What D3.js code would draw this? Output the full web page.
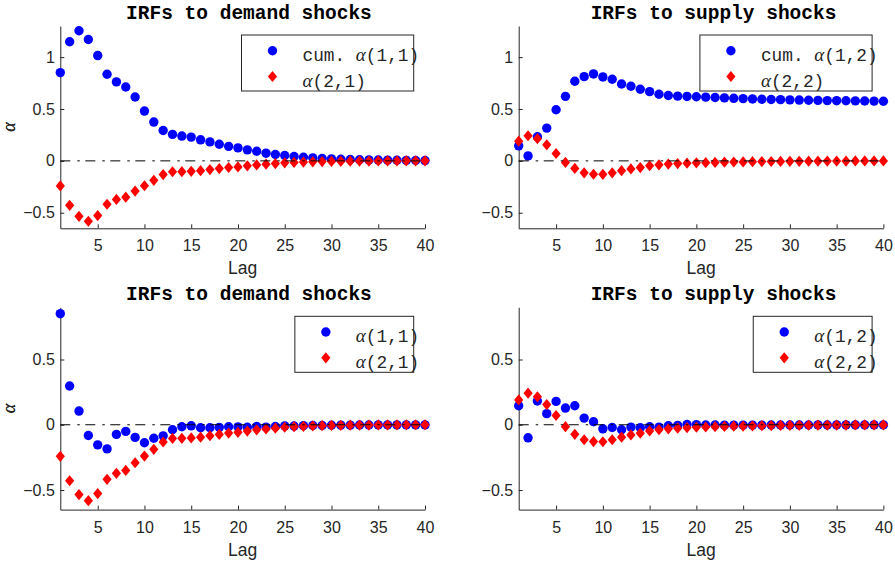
<!DOCTYPE html>
<html>
<head>
<meta charset="utf-8">
<script src="https://cdn.jsdelivr.net/npm/d3@7"></script>
<style>
  body { margin: 0; background: #fff; }
  .tick text { font-family: "Liberation Sans", Arial, Helvetica, sans-serif; font-size: 16px; fill: #262626; }
  .domain, .tick line { stroke: #262626; }
</style>
</head>
<body>
<div id="chart"></div>
<script>
// lags on the x axis
var lags = [1, 2, 3, 4, 5, 6, 7, 8, 9, 10, 11, 12, 13, 14, 15, 16, 17, 18, 19, 20,
            21, 22, 23, 24, 25, 26, 27, 28, 29, 30, 31, 32, 33, 34, 35, 36, 37, 38, 39, 40];

// cumulative alpha(1,1) - demand shock
var demandCum11 = [0.851, 1.148, 1.254, 1.170, 1.015, 0.835, 0.761, 0.712, 0.616, 0.480,
                   0.374, 0.293, 0.255, 0.239, 0.229, 0.203, 0.183, 0.160, 0.140, 0.125,
                   0.106, 0.093, 0.074, 0.061, 0.052, 0.042, 0.035, 0.029, 0.023, 0.019,
                   0.016, 0.013, 0.011, 0.009, 0.008, 0.007, 0.006, 0.005, 0.004, 0.003];

// alpha(1,1) - demand shock
var demand11 = [0.851, 0.297, 0.105, -0.082, -0.154, -0.185, -0.074, -0.051, -0.097, -0.138,
                -0.103, -0.085, -0.038, -0.015, -0.008, -0.023, -0.023, -0.020, -0.015, -0.016,
                -0.019, -0.013, -0.018, -0.013, -0.009, -0.010, -0.007, -0.006, -0.006, -0.004,
                -0.003, -0.003, -0.002, -0.002, -0.001, -0.001, -0.001, -0.001, -0.001, -0.001];

// alpha(2,1) - demand shock
var demand21 = [-0.242, -0.429, -0.535, -0.582, -0.527, -0.418, -0.372, -0.350, -0.291, -0.240,
                -0.188, -0.132, -0.105, -0.104, -0.101, -0.095, -0.084, -0.074, -0.064, -0.058,
                -0.048, -0.039, -0.032, -0.026, -0.019, -0.015, -0.012, -0.009, -0.007, -0.005,
                -0.004, -0.003, -0.002, -0.002, -0.001, -0.001, -0.001, 0, 0, 0];

// cumulative alpha(1,2) - supply shock
var supplyCum12 = [0.145, 0.048, 0.232, 0.316, 0.493, 0.622, 0.767, 0.812, 0.838, 0.809,
                   0.787, 0.741, 0.719, 0.690, 0.667, 0.642, 0.630, 0.624, 0.621, 0.618,
                   0.614, 0.611, 0.607, 0.603, 0.600, 0.597, 0.594, 0.592, 0.590, 0.588,
                   0.586, 0.584, 0.583, 0.581, 0.580, 0.579, 0.578, 0.577, 0.576, 0.575];

// alpha(1,2) - supply shock
var supply12 = [0.146, -0.100, 0.182, 0.085, 0.179, 0.128, 0.146, 0.051, 0.023, -0.031,
                -0.021, -0.038, -0.018, -0.023, -0.015, -0.018, -0.008, -0.005, 0.002, 0.001,
                -0.002, -0.002, -0.003, -0.003, -0.003, -0.003, -0.003, -0.002, -0.002, -0.002,
                -0.002, -0.002, -0.001, -0.002, -0.001, -0.001, -0.001, -0.001, -0.001, -0.001];

// alpha(2,2) - supply shock
var supply22 = [0.190, 0.242, 0.214, 0.155, 0.071, -0.015, -0.073, -0.115, -0.129, -0.130,
                -0.115, -0.095, -0.078, -0.065, -0.047, -0.038, -0.031, -0.026, -0.022, -0.019,
                -0.017, -0.015, -0.013, -0.011, -0.010, -0.008, -0.007, -0.006, -0.005, -0.004,
                -0.004, -0.003, -0.003, -0.002, -0.002, -0.002, -0.001, -0.001, -0.001, -0.001];

var xTicks = [5, 10, 15, 20, 25, 30, 35, 40];
var yTicksTop = [-0.5, 0, 0.5, 1];
var yTicksBottom = [-0.5, 0, 0.5];

var titles = ["IRFs to demand shocks", "IRFs to supply shocks"];
// legend labels: [prefix, greek, suffix]
var legendTL = [["cum. ", "\u03b1", "(1,1)"], ["", "\u03b1", "(2,1)"]];
var legendTR = [["cum. ", "\u03b1", "(1,2)"], ["", "\u03b1", "(2,2)"]];
var legendBL = [["", "\u03b1", "(1,1)"], ["", "\u03b1", "(2,1)"]];
var legendBR = [["", "\u03b1", "(1,2)"], ["", "\u03b1", "(2,2)"]];

var plotW = 364.7, plotH = 202.3;
var mono = '"Liberation Mono", "Courier New", Courier, monospace';
var sans = '"Liberation Sans", Arial, Helvetica, sans-serif';
var serif = '"Liberation Serif", "Times New Roman", serif';

var panels = [
  {left: 60.3, top: 26, yDomain: [-0.65, 1.3], yTicks: yTicksTop, blue: demandCum11, red: demand21, title: titles[0], legend: legendTL, titleDx: 6.3},
  {left: 518.7, top: 26, yDomain: [-0.65, 1.3], yTicks: yTicksTop, blue: supplyCum12, red: supply22, title: titles[1], legend: legendTR, titleDx: 12.5},
  {left: 60.3, top: 307.3, yDomain: [-0.65, 0.9], yTicks: yTicksBottom, blue: demand11, red: demand21, title: titles[0], legend: legendBL, titleDx: 6.3},
  {left: 518.7, top: 307.3, yDomain: [-0.65, 0.9], yTicks: yTicksBottom, blue: supply12, red: supply22, title: titles[1], legend: legendBR, titleDx: 12.5}
];

var diamond = "M0,-5.6L4.6,0L0,5.6L-4.6,0Z";

var svg = d3.select("#chart").append("svg")
  .attr("width", 895)
  .attr("height", 562);

panels.forEach(function(p) {
  var g = svg.append("g").attr("transform", `translate(${p.left}, ${p.top})`);

  var xScale = d3.scaleLinear().domain([1, 40]).range([0, plotW]);
  var yScale = d3.scaleLinear().domain(p.yDomain).range([plotH, 0]);

  // axes (ticks point inward like matlab)
  g.append("g")
    .attr("transform", `translate(0, ${plotH})`)
    .call(d3.axisBottom(xScale).tickValues(xTicks).tickSizeInner(-4).tickSizeOuter(0).tickPadding(11.6));

  g.append("g")
    .call(d3.axisLeft(yScale).tickValues(p.yTicks).tickFormat(d3.format("")).tickSizeInner(-4).tickSizeOuter(0).tickPadding(5.5));

  var pts = lags.map((l, i) => ({lag: l, b: p.blue[i], r: p.red[i]}));

  g.selectAll("circle.dot")
    .data(pts)
    .enter()
    .append("circle")
    .attr("class", "dot")
    .attr("cx", d => xScale(d.lag))
    .attr("cy", d => yScale(d.b))
    .attr("r", 4.7)
    .attr("fill", "#0000ff");

  g.selectAll("path.dia")
    .data(pts)
    .enter()
    .append("path")
    .attr("class", "dia")
    .attr("d", diamond)
    .attr("transform", d => `translate(${xScale(d.lag)}, ${yScale(d.r)})`)
    .attr("fill", "#ff0000");

  // zero line on top
  g.append("line")
    .attr("x1", xScale(1))
    .attr("x2", xScale(40))
    .attr("y1", yScale(0))
    .attr("y2", yScale(0))
    .attr("stroke", "#000")
    .attr("stroke-width", 1)
    .attr("stroke-dasharray", "10,7,2.5,5.5");

  // title
  g.append("text")
    .attr("x", plotW / 2 + p.titleDx)
    .attr("y", -7)
    .attr("text-anchor", "middle")
    .style("font-family", mono)
    .style("font-weight", "bold")
    .style("font-size", "19.5px")
    .attr("fill", "#000")
    .text(p.title);

  // x label
  g.append("text")
    .attr("x", plotW / 2)
    .attr("y", plotH + 46)
    .attr("text-anchor", "middle")
    .style("font-family", sans)
    .style("font-size", "17.5px")
    .attr("fill", "#262626")
    .text("Lag");

  // y label
  g.append("text")
    .attr("transform", `translate(${15 - p.left}, ${plotH / 2}) rotate(-90)`)
    .attr("text-anchor", "middle")
    .style("font-family", serif)
    .style("font-style", "italic")
    .style("font-size", "18px")
    .attr("fill", "#262626")
    .text("\u03b1");

  // legend
  var leg = g.append("g");
  var box = leg.append("rect")
    .attr("fill", "#fff")
    .attr("stroke", "#262626")
    .attr("stroke-width", 1);

  var maxW = 0;
  p.legend.forEach(function(item, i) {
    var t = leg.append("text")
      .attr("x", 61)
      .attr("y", 15.7 + i * 25.8 + 10)
      .style("font-family", mono)
      .style("font-size", "17.8px")
      .attr("fill", "#262626");
    if (item[0]) t.append("tspan").text(item[0]);
    t.append("tspan")
      .style("font-family", serif)
      .style("font-style", "italic")
      .style("font-size", "19px")
      .text(item[1]);
    t.append("tspan").text(item[2]);
    maxW = Math.max(maxW, t.node().getComputedTextLength());
  });

  leg.insert("circle", "text")
    .attr("cx", 31)
    .attr("cy", 15.7)
    .attr("r", 4.7)
    .attr("fill", "#0000ff");
  leg.insert("path", "text")
    .attr("d", diamond)
    .attr("transform", `translate(31, ${15.7 + 25.8})`)
    .attr("fill", "#ff0000");

  var boxW = 61 + maxW - 5.5;
  box.attr("x", 0).attr("y", 0).attr("width", boxW).attr("height", 56);
  leg.attr("transform", `translate(${plotW - 11.3 - boxW}, 9)`);
});
</script>
</body>
</html>
